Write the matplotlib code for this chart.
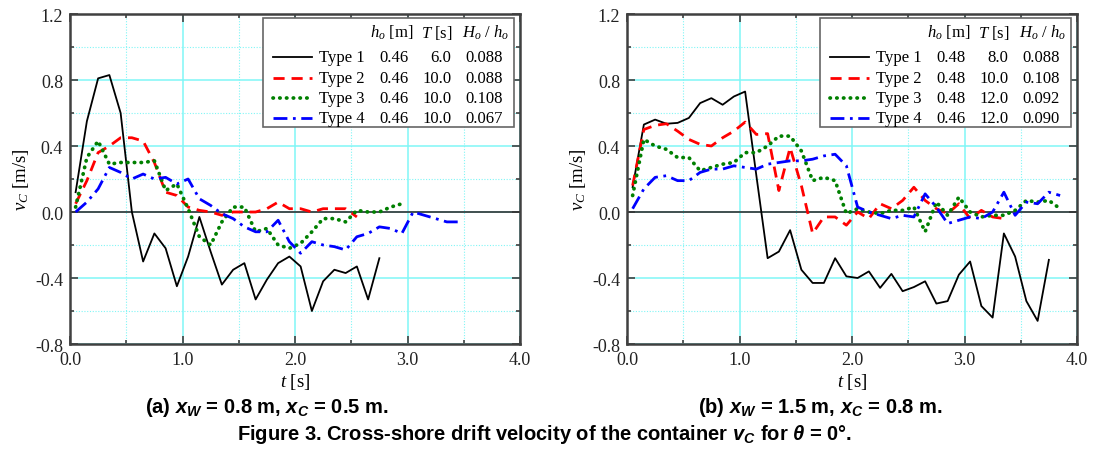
import numpy as np
import matplotlib
matplotlib.use("Agg")
import matplotlib.pyplot as plt
from matplotlib.patches import Rectangle
from matplotlib.ticker import MultipleLocator

plt.rcParams['mathtext.fontset'] = 'custom'
plt.rcParams['mathtext.it'] = 'Liberation Serif:italic'
plt.rcParams['mathtext.rm'] = 'Liberation Serif'
plt.rcParams['mathtext.bfit'] = 'Liberation Sans:bold:italic'
plt.rcParams['mathtext.bf'] = 'Liberation Sans:bold'

# sampling times [s]
t_grid = [0.05, 0.15, 0.25, 0.35, 0.45, 0.55, 0.65, 0.75, 0.85, 0.95,
          1.05, 1.15, 1.25, 1.35, 1.45, 1.55, 1.65, 1.75, 1.85, 1.95,
          2.05, 2.15, 2.25, 2.35, 2.45, 2.55, 2.65, 2.75, 2.85, 2.95,
          3.05, 3.15, 3.25, 3.35, 3.45, 3.55, 3.65, 3.75, 3.85]

# (a) xW = 0.8 m, xC = 0.5 m
a_type1 = [0.12, 0.55, 0.81, 0.83, 0.60, 0.0, -0.30, -0.13, -0.22, -0.45,
           -0.27, -0.03, -0.24, -0.44, -0.35, -0.31, -0.53, -0.41, -0.31, -0.27,
           -0.33, -0.60, -0.42, -0.35, -0.37, -0.33, -0.53, -0.28]
a_type2 = [0.05, 0.19, 0.36, 0.40, 0.45, 0.45, 0.43, 0.30, 0.12, 0.10,
           0.03, 0.01, 0.0, -0.02, 0.0, 0.0, 0.0, 0.02, 0.06, 0.02,
           0.02, 0.0, 0.02, 0.02, 0.02, -0.03]
a_type3 = [0.03, 0.33, 0.43, 0.29, 0.30, 0.30, 0.30, 0.31, 0.13, 0.17,
           0.02, -0.15, -0.20, -0.06, 0.03, 0.03, -0.12, -0.10, -0.20, -0.22,
           -0.19, -0.12, -0.04, -0.04, -0.06, 0.01, 0.0, 0.0, 0.03, 0.05]
a_type4 = [0.0, 0.06, 0.14, 0.27, 0.24, 0.20, 0.23, 0.20, 0.21, 0.17,
           0.20, 0.08, 0.04, -0.01, -0.04, -0.09, -0.12, -0.12, -0.05, -0.18,
           -0.25, -0.18, -0.20, -0.21, -0.23, -0.15, -0.13, -0.09, -0.10, -0.13,
           0.0, -0.02, -0.04, -0.06, -0.06]

# (b) xW = 1.5 m, xC = 0.8 m
b_type1 = [0.15, 0.53, 0.56, 0.535, 0.54, 0.57, 0.66, 0.69, 0.65, 0.70,
           0.73, 0.22, -0.28, -0.24, -0.11, -0.35, -0.43, -0.43, -0.28, -0.39,
           -0.40, -0.36, -0.46, -0.375, -0.48, -0.455, -0.42, -0.555, -0.54, -0.38,
           -0.30, -0.57, -0.64, -0.13, -0.27, -0.54, -0.66, -0.29]
b_type2 = [0.16, 0.50, 0.525, 0.535, 0.49, 0.44, 0.41, 0.40, 0.45, 0.49,
           0.545, 0.47, 0.475, 0.13, 0.39, 0.16, -0.13, -0.03, -0.03, -0.08,
           0.0, -0.04, 0.05, 0.02, 0.07, 0.15, 0.07, 0.02, -0.01, 0.05,
           -0.04, 0.01, -0.03, -0.04]
b_type3 = [0.10, 0.44, 0.40, 0.38, 0.33, 0.33, 0.25, 0.27, 0.29, 0.30,
           0.36, 0.36, 0.40, 0.46, 0.46, 0.37, 0.19, 0.21, 0.19, -0.01,
           0.02, 0.0, -0.01, 0.01, 0.01, 0.03, -0.12, 0.06, -0.02, 0.09,
           0.0, -0.03, -0.02, -0.02, 0.01, 0.07, 0.06, 0.07, 0.02]
b_type4 = [0.02, 0.14, 0.21, 0.22, 0.19, 0.19, 0.24, 0.26, 0.26, 0.28,
           0.27, 0.26, 0.29, 0.30, 0.31, 0.31, 0.32, 0.34, 0.35, 0.28,
           0.03, 0.0, -0.02, -0.04, -0.02, -0.03, 0.11, 0.03, -0.07, -0.05,
           -0.03, -0.04, 0.0, 0.12, -0.02, 0.06, 0.05, 0.12, 0.10]

type_names = ["Type 1", "Type 2", "Type 3", "Type 4"]
a_ho = ["0.46", "0.46", "0.46", "0.46"]
a_T = ["6.0", "10.0", "10.0", "10.0"]
a_Hh = ["0.088", "0.088", "0.108", "0.067"]
b_ho = ["0.48", "0.48", "0.48", "0.46"]
b_T = ["8.0", "10.0", "12.0", "12.0"]
b_Hh = ["0.088", "0.108", "0.092", "0.090"]

styles = [dict(color='black', lw=1.3, ls='-'),
          dict(color='#ff0000', lw=2.0, ls=(0, (4, 2.5))),
          dict(color='#008000', lw=2.7, ls=(0, (0.1, 1.7)), dash_capstyle='round'),
          dict(color='#0000ff', lw=2.0, ls=(0, (5, 2, 1, 2)))]

serif = 'Liberation Serif'
spine_col = '#404040'
grid_col = '#80f6f6'


def setup_axes(ax):
    ax.set_xlim(0, 4.0)
    ax.set_ylim(-0.8, 1.2)
    ax.xaxis.set_major_locator(MultipleLocator(1.0))
    ax.xaxis.set_minor_locator(MultipleLocator(0.5))
    ax.yaxis.set_major_locator(MultipleLocator(0.4))
    ax.yaxis.set_minor_locator(MultipleLocator(0.2))
    ax.set_xticklabels([f"{v:.1f}" for v in ax.get_xticks()], family=serif, fontsize=13)
    ax.set_yticklabels([f"{v:.1f}" for v in ax.get_yticks()], family=serif, fontsize=13)
    ax.tick_params(which='both', direction='in', top=True, right=True, colors=spine_col,
                   labelcolor='#222222', width=1.2)
    ax.tick_params(which='major', length=6, pad=5)
    ax.tick_params(which='minor', length=3)
    ax.grid(which='major', color=grid_col, lw=1.1, ls='-')
    ax.grid(which='minor', color=grid_col, lw=0.8, ls=(0, (1, 1.5)))
    ax.set_axisbelow(True)
    for s in ax.spines.values():
        s.set_color(spine_col)
        s.set_linewidth(1.8)
    ax.axhline(0, color='#333333', lw=1.2, zorder=1.5)
    ax.set_xlabel(r"$t$ [s]", family=serif, fontsize=13.5, labelpad=2)
    ax.set_ylabel(r"$v_C$ [m/s]", family=serif, fontsize=13.5, labelpad=3)


def draw_table(ax, ho, T, Hh):
    ax.add_patch(Rectangle((0.429, 0.658), 0.558, 0.330, transform=ax.transAxes,
                           facecolor='white', edgecolor='#666666', lw=1.2, zorder=5))
    fs = 12
    y_head = 0.945
    ax.text(0.764, y_head, r"$h_o$ [m]", transform=ax.transAxes, ha='right', va='center',
            family=serif, fontsize=fs, zorder=6)
    ax.text(0.851, y_head, r"$T$ [s]", transform=ax.transAxes, ha='right', va='center',
            family=serif, fontsize=fs, zorder=6)
    ax.text(0.976, y_head, r"$H_o$ / $h_o$", transform=ax.transAxes, ha='right', va='center',
            family=serif, fontsize=fs, zorder=6)
    rows = [0.870, 0.806, 0.745, 0.685]
    for i, y in enumerate(rows):
        ax.plot([0.451, 0.538], [y, y], transform=ax.transAxes, zorder=6, **styles[i])
        ax.text(0.553, y, type_names[i], transform=ax.transAxes, ha='left', va='center',
                family=serif, fontsize=fs, zorder=6)
        ax.text(0.753, y, ho[i], transform=ax.transAxes, ha='right', va='center',
                family=serif, fontsize=fs, zorder=6)
        ax.text(0.847, y, T[i], transform=ax.transAxes, ha='right', va='center',
                family=serif, fontsize=fs, zorder=6)
        ax.text(0.962, y, Hh[i], transform=ax.transAxes, ha='right', va='center',
                family=serif, fontsize=fs, zorder=6)


fig = plt.figure(figsize=(10.95, 4.52), dpi=100)
ax1 = fig.add_axes([70 / 1095, 107 / 452, 450 / 1095, 330 / 452])
ax2 = fig.add_axes([627 / 1095, 107 / 452, 450 / 1095, 330 / 452])

for ax, series, ho, T, Hh in [(ax1, [a_type1, a_type2, a_type3, a_type4], a_ho, a_T, a_Hh),
                              (ax2, [b_type1, b_type2, b_type3, b_type4], b_ho, b_T, b_Hh)]:
    setup_axes(ax)
    for i, v in enumerate(series):
        ax.plot(t_grid[:len(v)], v, zorder=3, **styles[i])
    draw_table(ax, ho, T, Hh)

cap_kw = dict(ha='center', va='center', fontsize=14.5, fontweight='bold', family='Liberation Sans')
fig.text(267 / 1095, 1 - 408 / 452,
         r"(a) $\mathbfit{x}_\mathbfit{W}$ = 0.8 m, $\mathbfit{x}_\mathbfit{C}$ = 0.5 m.", **cap_kw)
fig.text(820 / 1095, 1 - 408 / 452,
         r"(b) $\mathbfit{x}_\mathbfit{W}$ = 1.5 m, $\mathbfit{x}_\mathbfit{C}$ = 0.8 m.", **cap_kw)
fig.text(545 / 1095, 1 - 435 / 452,
         r"Figure 3. Cross-shore drift velocity of the container $\mathbfit{v}_\mathbfit{C}$ for $\mathbfit{\theta}$ = 0°.",
         **cap_kw)

fig.savefig("out.png", dpi=100)
